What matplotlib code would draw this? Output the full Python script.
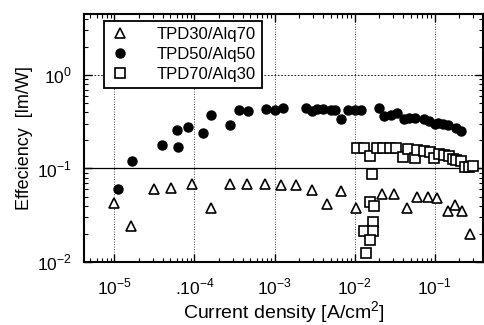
import numpy as np
import matplotlib
matplotlib.use("Agg")
import matplotlib.pyplot as plt
from matplotlib.ticker import LogLocator, NullFormatter, FixedLocator

plt.rcParams['font.family'] = ['Liberation Sans', 'DejaVu Sans']
plt.rcParams['mathtext.fontset'] = 'custom'
plt.rcParams['mathtext.rm'] = 'Liberation Sans'

# log10 of current density, efficiency values
tri_logx = [-5.01, -4.79, -4.51, -4.29, -4.03, -3.79, -3.56, -3.34, -3.12, -2.92, -2.73,
            -2.53, -2.34, -2.17, -1.98, -1.80, -1.66, -1.51, -1.35, -1.22, -1.09, -0.97,
            -0.84, -0.745, -0.655, -0.56]
tri_eff = [0.043, 0.0245, 0.060, 0.062, 0.069, 0.038, 0.069, 0.069, 0.068, 0.066, 0.066,
           0.059, 0.042, 0.058, 0.038, 0.025, 0.053, 0.053, 0.038, 0.050, 0.050, 0.048,
           0.035, 0.041, 0.035, 0.020]

cir_logx = [-4.95, -4.78, -4.40, -4.22, -4.20, -4.08, -3.90, -3.79, -3.56, -3.45, -3.33,
            -3.11, -3.00, -2.90, -2.61, -2.53, -2.47, -2.39, -2.30, -2.24, -2.17, -2.08,
            -2.00, -1.92, -1.70, -1.63, -1.55, -1.47, -1.39, -1.32, -1.25, -1.13, -1.07,
            -1.00, -0.96, -0.90, -0.84, -0.74, -0.67]
cir_eff = [0.060, 0.12, 0.18, 0.26, 0.17, 0.28, 0.24, 0.37, 0.29, 0.42, 0.41,
           0.43, 0.42, 0.44, 0.44, 0.41, 0.43, 0.43, 0.42, 0.42, 0.34, 0.42,
           0.42, 0.42, 0.44, 0.36, 0.37, 0.39, 0.34, 0.35, 0.35, 0.34, 0.32,
           0.30, 0.31, 0.30, 0.29, 0.27, 0.25]

sq_logx = [-1.97, -1.88, -1.81, -1.72, -1.65, -1.56, -1.49, -1.40, -1.33, -1.25, -1.22,
           -1.14, -1.06, -1.01, -0.945, -0.88, -0.82, -0.77, -0.74, -0.675, -0.62, -0.57,
           -0.52, -1.79, -1.81, -1.76, -1.77, -1.88, -1.77, -1.81, -1.86]
sq_eff = [0.164, 0.164, 0.136, 0.167, 0.166, 0.165, 0.165, 0.134, 0.160, 0.128, 0.158,
          0.155, 0.151, 0.128, 0.143, 0.139, 0.135, 0.126, 0.122, 0.119, 0.105, 0.105,
          0.107, 0.087, 0.044, 0.040, 0.027, 0.0216, 0.0215, 0.017, 0.0125]

labels = ["TPD30/Alq70", "TPD50/Alq50", "TPD70/Alq30"]
xtick_vals = [1e-5, 1e-4, 1e-3, 1e-2, 1e-1]
xtick_labels = ["10$^{-5}$", ".10$^{-4}$", "10$^{-3}$", "10$^{-2}$", "10$^{-1}$"]
ytick_vals = [1e-2, 1e-1, 1e0]
ytick_labels = ["10$^{-2}$", "10$^{-1}$", "10$^{0}$"]

fig = plt.figure(figsize=(4.84, 3.25), dpi=100)
ax = fig.add_axes([0.174, 0.194, 0.824, 0.763])

ax.plot(10 ** np.array(tri_logx), tri_eff, linestyle="none", marker="^", ms=6.5,
        mfc="white", mec="black", mew=1.2, label=labels[0])
ax.plot(10 ** np.array(cir_logx), cir_eff, linestyle="none", marker="o", ms=6.5,
        mfc="black", mec="black", label=labels[1])
ax.plot(10 ** np.array(sq_logx), sq_eff, linestyle="none", marker="s", ms=6.5,
        mfc="white", mec="black", mew=1.2, label=labels[2])

ax.set_xscale("log")
ax.set_yscale("log")
ax.set_xlim(4.2e-6, 0.4)
ax.set_ylim(1e-2, 4.5)

ax.xaxis.set_major_locator(FixedLocator(xtick_vals))
ax.set_xticklabels(xtick_labels)
ax.yaxis.set_major_locator(FixedLocator(ytick_vals))
ax.set_yticklabels(ytick_labels)
ax.xaxis.set_minor_locator(LogLocator(base=10, subs=np.arange(2, 10)))
ax.yaxis.set_minor_locator(LogLocator(base=10, subs=np.arange(2, 10)))
ax.xaxis.set_minor_formatter(NullFormatter())
ax.yaxis.set_minor_formatter(NullFormatter())

ax.tick_params(which="both", direction="in", top=True, right=True, labelsize=12.5)
ax.tick_params(axis="x", which="major", length=6, width=1.0, pad=11)
ax.tick_params(axis="y", which="major", length=6, width=1.0, pad=9)
ax.tick_params(which="minor", length=3, width=0.8)

for v in xtick_vals:
    ax.axvline(v, color="black", linestyle=(0, (1, 2)), linewidth=0.6, zorder=0)
ax.axhline(1e0, color="black", linestyle=(0, (2, 2)), linewidth=0.6, zorder=0)
ax.axhline(1e-1, color="black", linestyle="-", linewidth=0.9, zorder=0)

for s in ax.spines.values():
    s.set_linewidth(1.5)

ax.set_xlabel("Current density [A/cm$^2$]", fontsize=14, labelpad=1)
ax.set_ylabel("Effeciency  [lm/W]", fontsize=13, labelpad=3)

leg = ax.legend(loc="upper left", bbox_to_anchor=(0.05, 0.97), fontsize=12,
                frameon=True, fancybox=False, edgecolor="black", framealpha=1,
                handletextpad=1.6, borderpad=0.35, labelspacing=0.3, handlelength=1.2,
                borderaxespad=0)
leg.get_frame().set_linewidth(1.3)

fig.savefig("out.png", dpi=100)
